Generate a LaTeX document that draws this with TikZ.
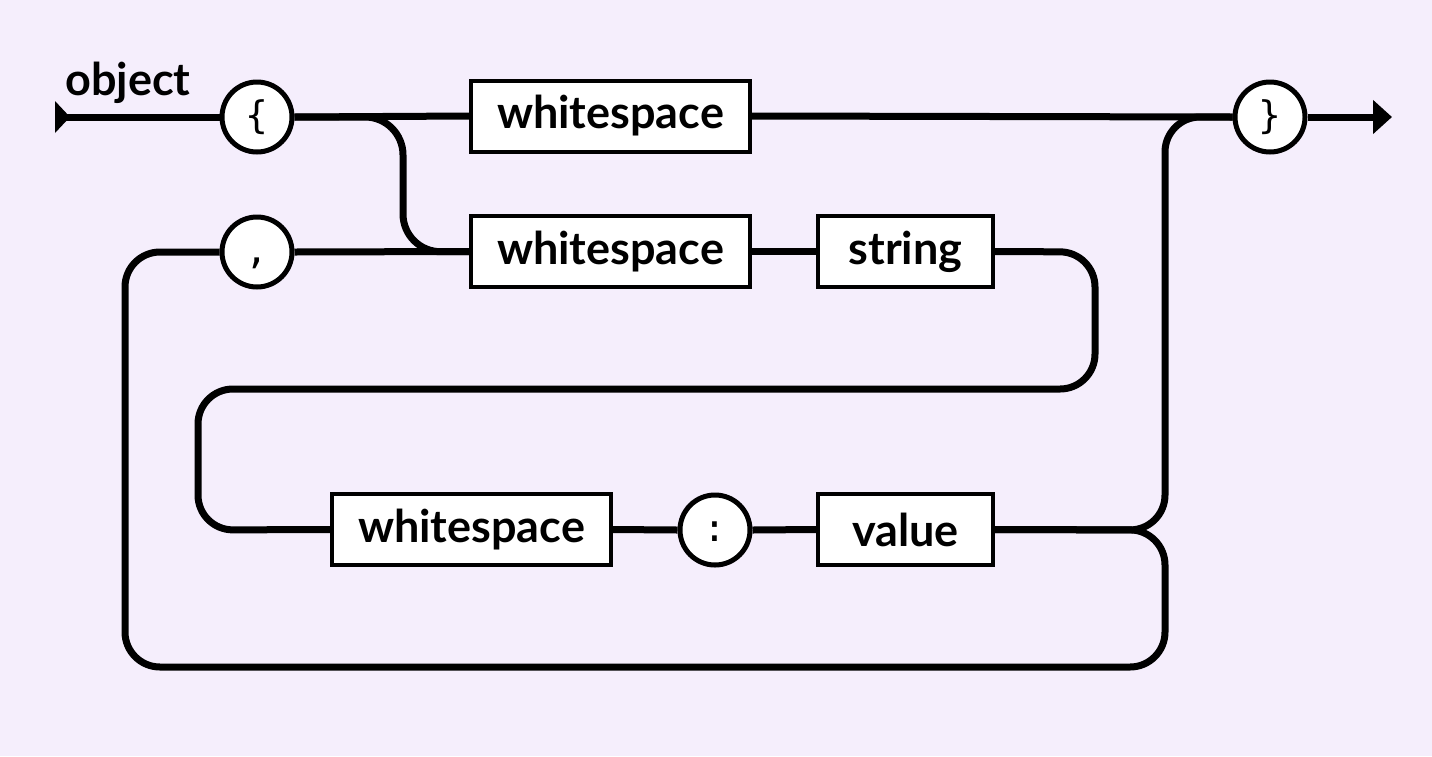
\documentclass[tikz,border=0pt]{standalone}
\usepackage{fontspec}
\setmainfont{Lato}
\newfontfamily\symfont{DejaVu Sans Mono}
\usetikzlibrary{arrows.meta}
\definecolor{bgc}{HTML}{F5EEFC}
\pgfdeclarelayer{bg}
\pgfdeclarelayer{rails}
\pgfsetlayers{bg,rails,main}
\newcommand{\litstrut}{\vphantom{\{\}}}
\begin{document}
\begin{tikzpicture}[x=1pt,y=-1pt,
  rail/.style={line width=7pt},
  termbox/.style={draw,line width=4pt,fill=white,minimum width=279pt,minimum height=71pt,inner sep=0pt,font=\fontsize{45}{48}\selectfont\bfseries},
  litc/.style={draw,circle,line width=5pt,fill=white,minimum size=70pt,inner sep=0pt,font=\symfont\fontsize{38}{40}\selectfont}]
\begin{pgfonlayer}{bg}
\fill[bgc] (0,0) rectangle (1432,756);
\end{pgfonlayer}
\useasboundingbox (0,0) rectangle (1432,756);
% nodes
\node[litc] (ob) at (257,117) {\litstrut\{};
\node[termbox] (ws1) at (610.5,116) {whitespace};
\node[litc] (cb) at (1270,117) {\litstrut\}};
\node[litc] (cm) at (257,252) {\litstrut,};
\node[termbox] (ws2) at (610.5,251.5) {whitespace};
\node[termbox,minimum width=175pt] (str) at (905.5,251.5) {string};
\node[termbox] (ws3) at (471.5,529.5) {whitespace};
\node[litc] (col) at (715,530) {\litstrut:};
\node[termbox,minimum width=175pt] (val) at (905.5,529.5) {value};
\node[anchor=base west,inner sep=0pt,font=\fontsize{45}{48}\selectfont\bfseries] (lbl) at (65,95) {object};
\coordinate (st) at (57,117);
\coordinate (en) at (1392,117);
\begin{pgfonlayer}{rails}
\draw[rail] (st) -- (ob.west);
\fill (55,101) -- (70,117) -- (55,133) -- cycle;
\draw[rail] (ob.east) -- (ws1.west);
\draw[rail] (ws1.east) -- (cb.west);
\draw[rail,-{Triangle[length=19pt,width=33pt]}] (cb.east) -- (en);
\draw[rail,rounded corners=38pt] (ob.east) -- (403,117) -- (403,252) -- (ws2.west);
\draw[rail] (cm.east) -- (ws2.west);
\draw[rail] (ws2.east) -- (str.west);
\draw[rail,rounded corners=35pt] (str.east) -- (1095,252) -- (1095,389) -- (198,389) -- (198,530) -- (ws3.west);
\draw[rail] (ws3.east) -- (col.west);
\draw[rail] (col.east) -- (val.west);
\draw[rail,rounded corners=35pt] (val.east) -- (1165,530) -- (1165,117) -- (cb.west);
\draw[rail,rounded corners=35pt] (val.east) -- (1165,530) -- (1165,667) -- (125,667) -- (125,252) -- (cm.west);
\end{pgfonlayer}
\end{tikzpicture}
\end{document}
